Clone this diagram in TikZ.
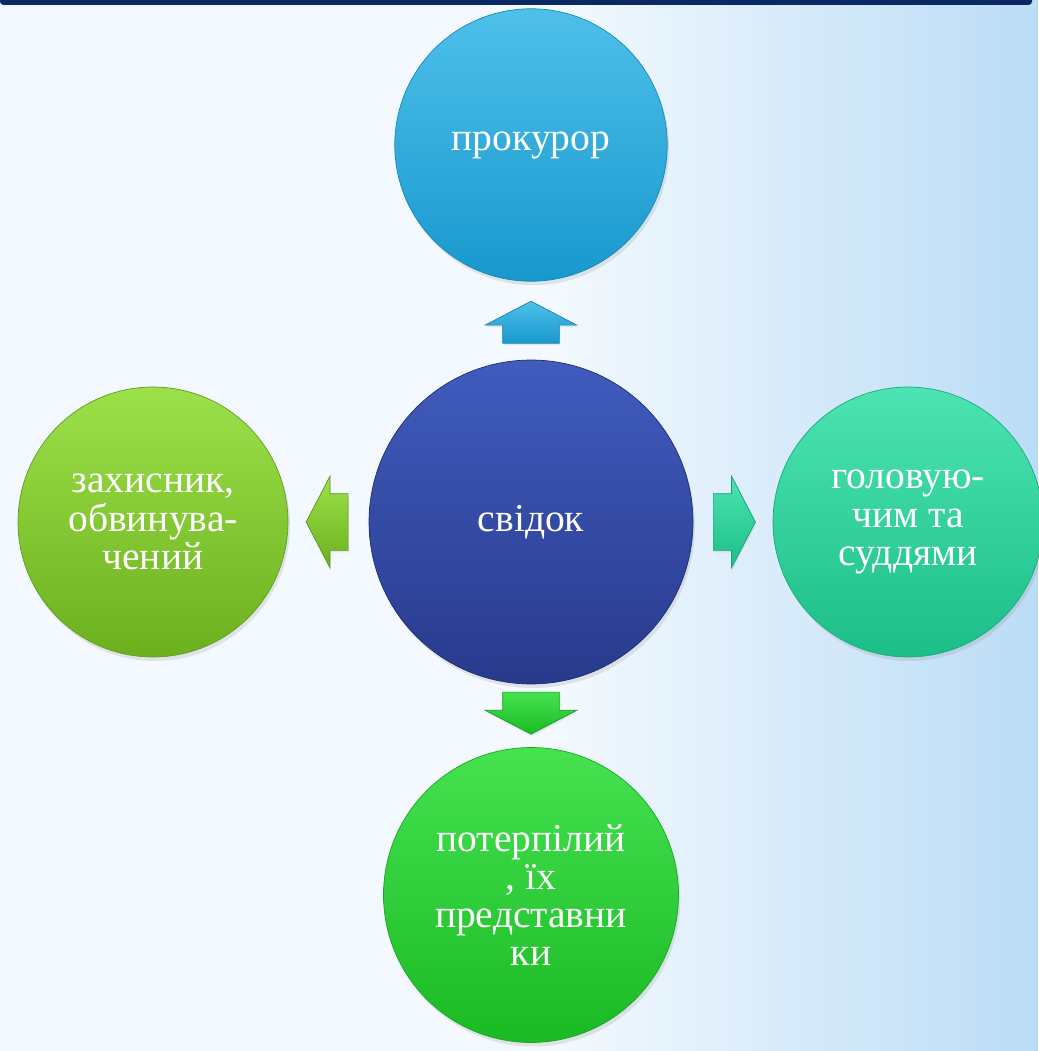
\documentclass[tikz,border=0pt]{standalone}
\usepackage{fontspec}
\setmainfont{Liberation Serif}
\usetikzlibrary{shapes.arrows,calc,shadows}
\definecolor{navybar}{RGB}{10,40,100}
\definecolor{bgleft}{RGB}{243,249,254}
\definecolor{bgright}{RGB}{186,220,246}
\definecolor{skytop}{RGB}{78,192,234}
\definecolor{skybot}{RGB}{24,152,206}
\definecolor{indigotop}{RGB}{64,92,190}
\definecolor{indigobot}{RGB}{40,58,140}
\definecolor{limetop}{RGB}{156,224,74}
\definecolor{limebot}{RGB}{108,176,30}
\definecolor{minttop}{RGB}{76,228,178}
\definecolor{mintbot}{RGB}{28,190,136}
\definecolor{greentop}{RGB}{70,226,80}
\definecolor{greenbot}{RGB}{26,186,36}
\tikzset{
  bubble/.style={circle, inner sep=0pt, align=center, text=white,
    font=\fontsize{22.5}{21.8}\selectfont,
    drop shadow={opacity=0.18, shadow xshift=0.04cm, shadow yshift=-0.08cm}},
  blockarr/.style={single arrow, inner xsep=0pt, inner ysep=0.56cm,
    minimum height=0.84cm, single arrow head extend=0.35cm,
    single arrow tip angle=125, line width=0.4pt,
    drop shadow={opacity=0.15, shadow xshift=0.02cm, shadow yshift=-0.04cm}},
  vblockarr/.style={blockarr, inner xsep=0.56cm, inner ysep=0pt}
}

\begin{document}
\begin{tikzpicture}[x=0.02cm, y=-0.02cm]
    \useasboundingbox (0,0) rectangle (1038,1051);
    \fill[bgleft] (0,0) rectangle (1038,1051);
    \shade[left color=bgleft, right color=bgright] (560,0) rectangle (1038,1051);
    \fill[navybar, rounded corners=2pt] (0,-5) rectangle (1032,5); % top bar
    % circles
    \node[bubble, minimum size=6.48cm, top color=indigotop, bottom color=indigobot, draw=indigobot!80!black] (svidok) at (531,522) {свідок};
    \node[bubble, minimum size=5.45cm, top color=skytop, bottom color=skybot, draw=skybot!90!black] (prokuror) at (531,145) {прокурор};
    \node[bubble, minimum size=5.4cm, top color=limetop, bottom color=limebot, draw=limebot!90!black] (zakhysnyk) at (153,522) {захисник,\\обвинува-\\чений};
    \node[bubble, minimum size=5.4cm, top color=minttop, bottom color=mintbot, draw=mintbot!90!black] (holovuyuchym) at (908,522) {головую-\\чим та\\суддями};
    \node[bubble, minimum size=5.9cm, top color=greentop, bottom color=greenbot, draw=greenbot!90!black] (poterpilyi) at (531,895) {потерпілий\\, їх\\представни\\ки};
    % block arrows
    \node[vblockarr, shape border rotate=90, yshift=-0.18cm, top color=skytop, bottom color=skybot, draw=skybot!85!black] (arrup) at ($(svidok.north)!0.5!(prokuror.south)$) {};
    \node[blockarr, shape border rotate=180, xshift=0.12cm, top color=limetop, bottom color=limebot, draw=limebot!85!black] (arrleft) at ($(svidok.west)!0.5!(zakhysnyk.east)$) {};
    \node[blockarr, xshift=-0.12cm, top color=minttop, bottom color=mintbot, draw=mintbot!85!black] (arrright) at ($(svidok.east)!0.5!(holovuyuchym.west)$) {};
    \node[vblockarr, shape border rotate=270, yshift=0.2cm, top color=greentop, bottom color=greenbot, draw=greenbot!85!black] (arrdown) at ($(svidok.south)!0.5!(poterpilyi.north)$) {};
\end{tikzpicture}
\end{document}
